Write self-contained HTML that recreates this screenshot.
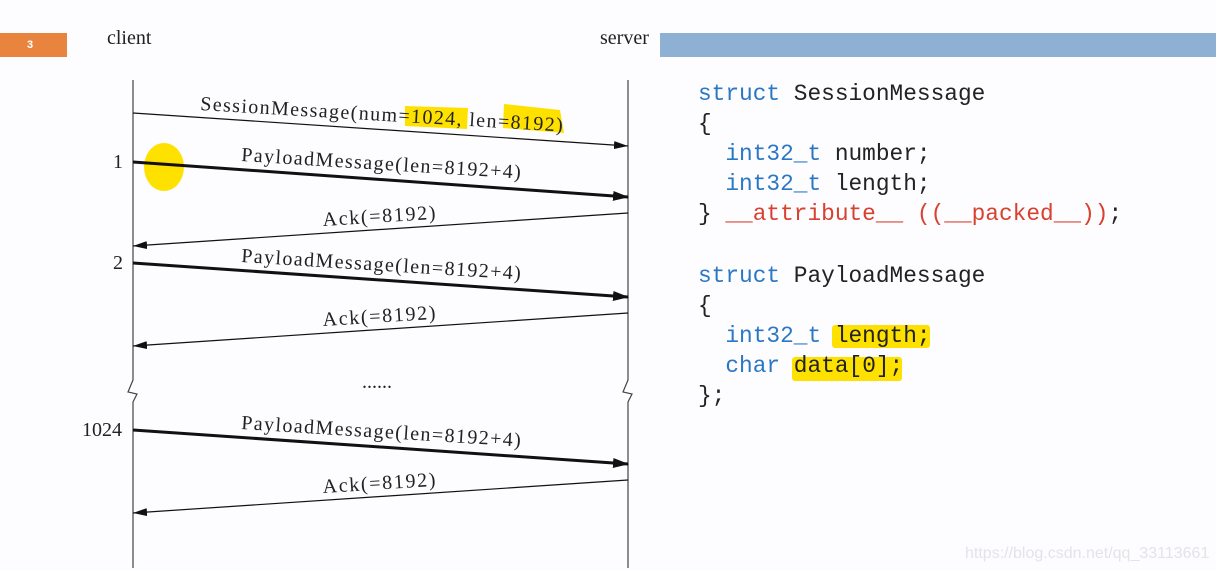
<!DOCTYPE html>
<html><head><meta charset="utf-8"><style>
html,body{margin:0;padding:0;background:#fdfcfe;width:1216px;height:571px;overflow:hidden;position:relative}
.code{position:absolute;left:698px;font-family:"Liberation Mono",monospace;font-size:22.8px;color:#222;white-space:pre;line-height:30px}
.b{color:#2a78c4}.r{color:#d8412f}
.hl{position:absolute;background:#ffe100;border-radius:3px}
</style></head><body>
<div style="position:absolute;left:0;top:33px;width:67px;height:24px;background:#e8843d;color:#fff;font:bold 11px 'Liberation Sans',sans-serif;line-height:24px;padding-left:27px;box-sizing:border-box">3</div>
<div style="position:absolute;left:660px;top:33px;width:556px;height:24px;background:#8eb0d2"></div>
<div class="hl" style="left:832px;top:325px;width:98px;height:23px"></div>
<div class="hl" style="left:792px;top:357px;width:110px;height:24px"></div>
<svg width="1216" height="571" style="position:absolute;left:0;top:0" font-family="'Liberation Serif',serif">
<defs>
<marker id="a" markerWidth="14" markerHeight="8" refX="14" refY="4" orient="auto" markerUnits="userSpaceOnUse"><path d="M0,0 L14,4 L0,8 z" fill="#111"/></marker>
<marker id="t" markerWidth="16" markerHeight="10" refX="15" refY="5" orient="auto" markerUnits="userSpaceOnUse"><path d="M0,0 L16,5 L0,10 z" fill="#111"/></marker>
</defs>
<g fill="#ffe100">
<path d="M405,106 L468,108 L467,129 L405,126z"/>
<path d="M504,104 L560,110 L564,133 L503,128z"/>
<ellipse cx="164" cy="167" rx="20" ry="24"/>
</g>
<text x="107" y="44" font-size="20" fill="#222">client</text>
<text x="600" y="44" font-size="20" fill="#222">server</text>
<g stroke="#444" stroke-width="1.2" fill="none">
<path d="M133,80 V380 L128,392 L137,394 L133,402 V568"/>
<path d="M628,80 V380 L623,392 L632,394 L628,402 V568"/>
</g>
<g stroke="#111" fill="none">
<line x1="133" y1="113" x2="628" y2="146" stroke-width="1.2" marker-end="url(#a)"/>
<line x1="133" y1="162" x2="628" y2="197" stroke-width="3" marker-end="url(#t)"/>
<line x1="628" y1="213" x2="133" y2="246" stroke-width="1.2" marker-end="url(#a)"/>
<line x1="133" y1="263" x2="628" y2="297" stroke-width="3" marker-end="url(#t)"/>
<line x1="628" y1="313" x2="133" y2="346" stroke-width="1.2" marker-end="url(#a)"/>
<line x1="133" y1="430" x2="628" y2="464" stroke-width="3" marker-end="url(#t)"/>
<line x1="628" y1="480" x2="133" y2="513" stroke-width="1.2" marker-end="url(#a)"/>
</g>
<g font-size="20" fill="#222">
<text x="200" y="110" transform="rotate(3.4 200 110)" textLength="363">SessionMessage(num=1024, len=8192)</text>
<text x="241" y="161" transform="rotate(3.6 241 161)" textLength="280">PayloadMessage(len=8192+4)</text>
<text x="323" y="226" transform="rotate(-3.6 323 226)" textLength="113">Ack(=8192)</text>
<text x="241" y="262" transform="rotate(3.6 241 262)" textLength="280">PayloadMessage(len=8192+4)</text>
<text x="323" y="326" transform="rotate(-3.6 323 326)" textLength="113">Ack(=8192)</text>
<text x="241" y="429" transform="rotate(3.6 241 429)" textLength="280">PayloadMessage(len=8192+4)</text>
<text x="323" y="493" transform="rotate(-3.6 323 493)" textLength="113">Ack(=8192)</text>
<text x="113" y="168">1</text>
<text x="113" y="269">2</text>
<text x="82" y="436">1024</text>
<text x="362" y="388">......</text>
</g>
<text x="965" y="558" font-family="'Liberation Sans',sans-serif" font-size="16" fill="#e4e3e8">https://blog.csdn.net/qq_33113661</text>
</svg>
<div class="code" style="top:79px"><span class="b">struct</span> SessionMessage
{
  <span class="b">int32_t</span> number;
  <span class="b">int32_t</span> length;
} <span class="r">__attribute__ ((__packed__))</span>;
</div>
<div class="code" style="top:261px"><span class="b">struct</span> PayloadMessage
{
  <span class="b">int32_t</span> length;
  <span class="b">char</span> data[0];
};
</div>
</body></html>
